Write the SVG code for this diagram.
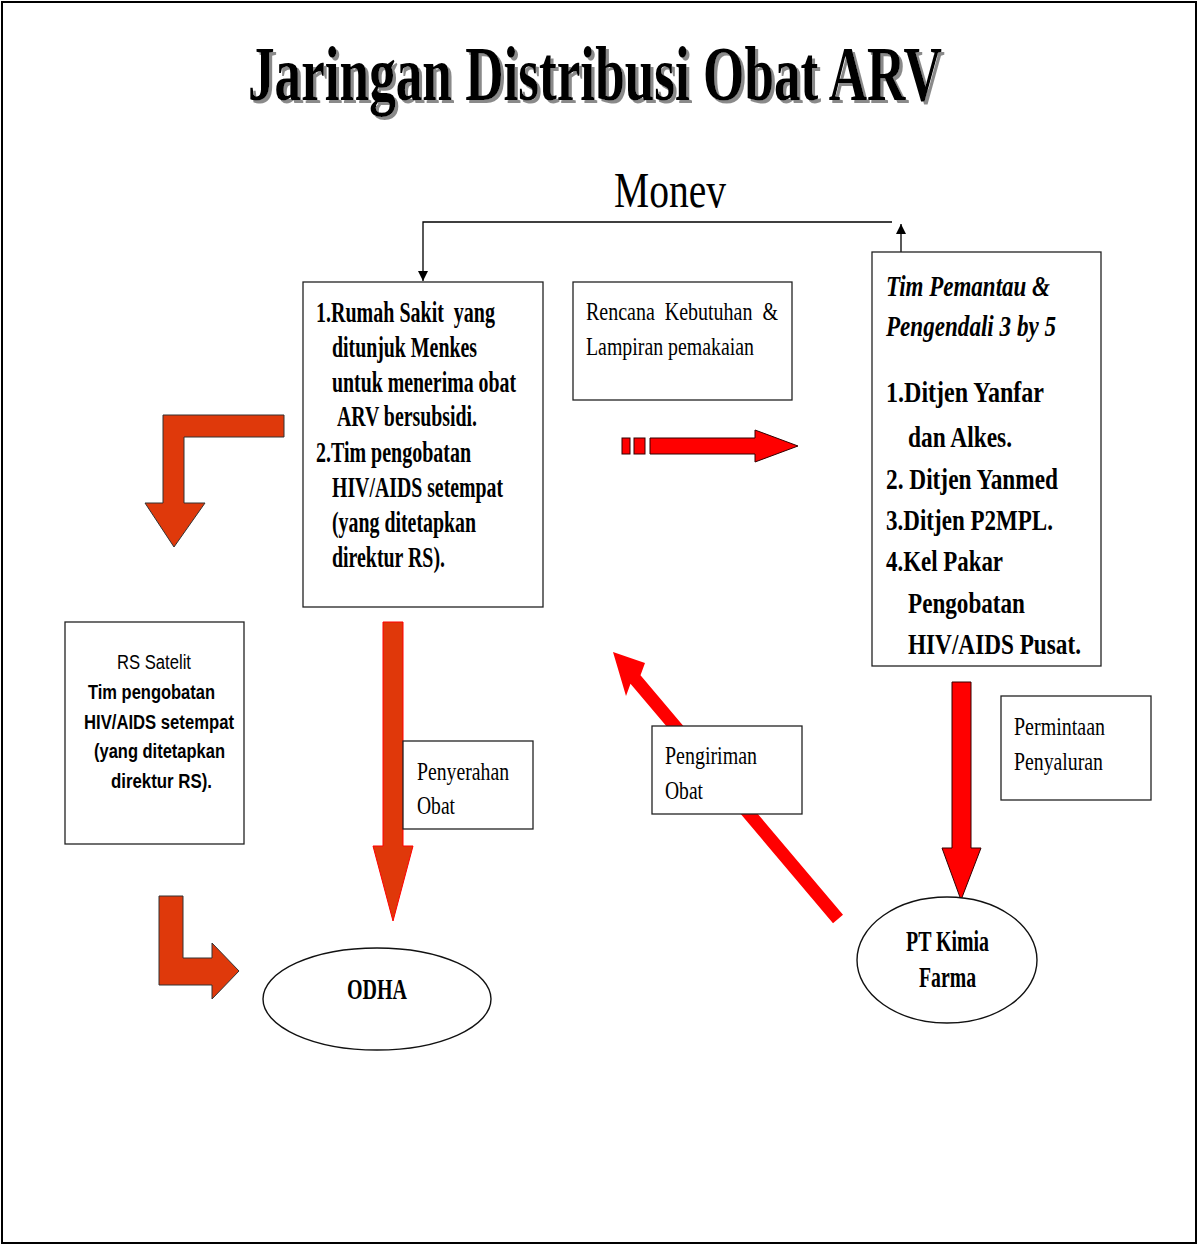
<svg xmlns="http://www.w3.org/2000/svg" width="1199" height="1245" viewBox="0 0 1199 1245">
<defs>
<style>
.box{fill:#fff;stroke:#222;stroke-width:1.3}
.ell{fill:#fff;stroke:#111;stroke-width:1.4}
.tb{font-family:"Liberation Serif","Times New Roman",serif;font-weight:bold;font-size:29px;fill:#000}
.tbi{font-family:"Liberation Serif","Times New Roman",serif;font-weight:bold;font-style:italic;font-size:29px;fill:#000}
.tr{font-family:"Liberation Serif","Times New Roman",serif;font-size:25px;fill:#000}
.sa{font-family:"Liberation Sans",Arial,sans-serif;font-size:20px;fill:#000}
.sab{font-family:"Liberation Sans",Arial,sans-serif;font-weight:bold;font-size:20px;fill:#000}
.orange{fill:#DF390B;stroke:#333;stroke-width:1}
.red{fill:#FF0000;stroke:#300;stroke-width:1}
.ln{fill:none;stroke:#000;stroke-width:1.3}
</style>
<filter id="shadow" filterUnits="userSpaceOnUse" x="150" y="0" width="900" height="160">
<feDropShadow dx="3" dy="3" stdDeviation="0.6" flood-color="#8a8a8a" flood-opacity="1"/>
</filter>
<marker id="ah" viewBox="0 0 10 10" refX="10" refY="5" markerWidth="10" markerHeight="12" markerUnits="userSpaceOnUse" orient="auto">
<path d="M0,0 L10,5 L0,10 z" fill="#000"/>
</marker>
</defs>
<rect x="0" y="0" width="1199" height="1245" fill="#fff"/>
<rect x="2" y="2" width="1194" height="1241" fill="none" stroke="#000" stroke-width="2"/>

<g id="title">
<text x="248" y="100" font-family="Liberation Serif,serif" font-weight="bold" font-size="79" fill="#000" filter="url(#shadow)" textLength="694" lengthAdjust="spacingAndGlyphs">Jaringan Distribusi Obat ARV</text>
</g>

<g id="monev-label">
<text x="614" y="207" font-family="Liberation Serif,serif" font-size="50" fill="#000" textLength="112" lengthAdjust="spacingAndGlyphs">Monev</text>
</g>

<g id="connectors">
<path class="ln" d="M892,222 H423 V281" marker-end="url(#ah)"/>
<path class="ln" d="M901,267 V224" marker-end="url(#ah)"/>
<polygon class="orange" points="284,415 284,437 184,437 184,503 205,503 174,547 145,503 163,503 163,415"/>
<polygon class="orange" points="159,896 183,896 183,958 212,958 212,943 239,971 212,999 212,985 159,985"/>
<polygon fill="#E0380A" stroke="#F00" stroke-width="1" points="383,622 403,622 403,846 413,846 393,921 373,846 383,846"/>
<g>
<rect class="red" x="622" y="438" width="8" height="16"/>
<rect class="red" x="634" y="438" width="11" height="16"/>
<polygon class="red" points="650,438 755,438 755,430 798,446 755,462 755,454 650,454"/>
</g>
<polygon class="red" points="952,682 971,682 971,848 981,848 961,900 942,848 952,848"/>
<polygon fill="#FF0000" points="613,652 645,663 640.5,675.3 843,914.8 833,923.2 630.5,683.7 626,696"/>
</g>

<g id="box-rs">
<rect class="box" x="303" y="282" width="240" height="325"/>
<text class="tb" x="316" y="322" textLength="179" lengthAdjust="spacingAndGlyphs" xml:space="preserve">1.Rumah Sakit  yang</text>
<text class="tb" x="332" y="357" textLength="145" lengthAdjust="spacingAndGlyphs">ditunjuk Menkes</text>
<text class="tb" x="332" y="392" textLength="184" lengthAdjust="spacingAndGlyphs">untuk menerima obat</text>
<text class="tb" x="337" y="426" textLength="140" lengthAdjust="spacingAndGlyphs">ARV bersubsidi.</text>
<text class="tb" x="316" y="462" textLength="155" lengthAdjust="spacingAndGlyphs">2.Tim pengobatan</text>
<text class="tb" x="332" y="497" textLength="171" lengthAdjust="spacingAndGlyphs">HIV/AIDS setempat</text>
<text class="tb" x="332" y="532" textLength="144" lengthAdjust="spacingAndGlyphs">(yang ditetapkan</text>
<text class="tb" x="332" y="567" textLength="113" lengthAdjust="spacingAndGlyphs">direktur RS).</text>
</g>

<g id="box-rencana">
<rect class="box" x="573" y="282" width="219" height="118"/>
<text class="tr" x="586" y="320" textLength="192" lengthAdjust="spacingAndGlyphs" xml:space="preserve">Rencana  Kebutuhan  &amp;</text>
<text class="tr" x="586" y="355" textLength="168" lengthAdjust="spacingAndGlyphs">Lampiran pemakaian</text>
</g>

<g id="box-tim">
<rect class="box" x="872" y="252" width="229" height="414"/>
<text class="tbi" x="886" y="296" textLength="164" lengthAdjust="spacingAndGlyphs">Tim Pemantau &amp;</text>
<text class="tbi" x="886" y="336" textLength="170" lengthAdjust="spacingAndGlyphs">Pengendali 3 by 5</text>
<text class="tb" x="886" y="402" textLength="158" lengthAdjust="spacingAndGlyphs">1.Ditjen Yanfar</text>
<text class="tb" x="908" y="447" textLength="104" lengthAdjust="spacingAndGlyphs">dan Alkes.</text>
<text class="tb" x="886" y="489" textLength="172" lengthAdjust="spacingAndGlyphs">2. Ditjen Yanmed</text>
<text class="tb" x="886" y="530" textLength="167" lengthAdjust="spacingAndGlyphs">3.Ditjen P2MPL.</text>
<text class="tb" x="886" y="571" textLength="117" lengthAdjust="spacingAndGlyphs">4.Kel Pakar</text>
<text class="tb" x="908" y="613" textLength="117" lengthAdjust="spacingAndGlyphs">Pengobatan</text>
<text class="tb" x="908" y="654" textLength="173" lengthAdjust="spacingAndGlyphs">HIV/AIDS Pusat.</text>
</g>

<g id="box-satelit">
<rect class="box" x="65" y="622" width="179" height="222"/>
<text class="sa" x="117" y="669" textLength="74" lengthAdjust="spacingAndGlyphs">RS Satelit</text>
<text class="sab" x="88" y="699" textLength="127" lengthAdjust="spacingAndGlyphs">Tim pengobatan</text>
<text class="sab" x="84" y="729" textLength="150" lengthAdjust="spacingAndGlyphs">HIV/AIDS setempat</text>
<text class="sab" x="94" y="758" textLength="131" lengthAdjust="spacingAndGlyphs">(yang ditetapkan</text>
<text class="sab" x="111" y="788" textLength="101" lengthAdjust="spacingAndGlyphs">direktur RS).</text>
</g>

<g id="box-penyerahan">
<rect class="box" x="403" y="741" width="130" height="88"/>
<text class="tr" x="417" y="780" textLength="92" lengthAdjust="spacingAndGlyphs">Penyerahan</text>
<text class="tr" x="417" y="814" textLength="38" lengthAdjust="spacingAndGlyphs">Obat</text>
</g>

<g id="box-pengiriman">
<rect class="box" x="652" y="726" width="150" height="88"/>
<text class="tr" x="665" y="764" textLength="92" lengthAdjust="spacingAndGlyphs">Pengiriman</text>
<text class="tr" x="665" y="799" textLength="38" lengthAdjust="spacingAndGlyphs">Obat</text>
</g>

<g id="box-permintaan">
<rect class="box" x="1001" y="696" width="150" height="104"/>
<text class="tr" x="1014" y="735" textLength="91" lengthAdjust="spacingAndGlyphs">Permintaan</text>
<text class="tr" x="1014" y="770" textLength="89" lengthAdjust="spacingAndGlyphs">Penyaluran</text>
</g>

<g id="node-odha">
<ellipse class="ell" cx="377" cy="999" rx="114" ry="51"/>
<text class="tb" x="347" y="999" font-size="27" textLength="60" lengthAdjust="spacingAndGlyphs">ODHA</text>
</g>

<g id="node-kimia">
<ellipse class="ell" cx="947" cy="960" rx="90" ry="63"/>
<text class="tb" x="906" y="951" font-size="27" textLength="83" lengthAdjust="spacingAndGlyphs">PT Kimia</text>
<text class="tb" x="919" y="987" font-size="27" textLength="57" lengthAdjust="spacingAndGlyphs">Farma</text>
</g>
</svg>
